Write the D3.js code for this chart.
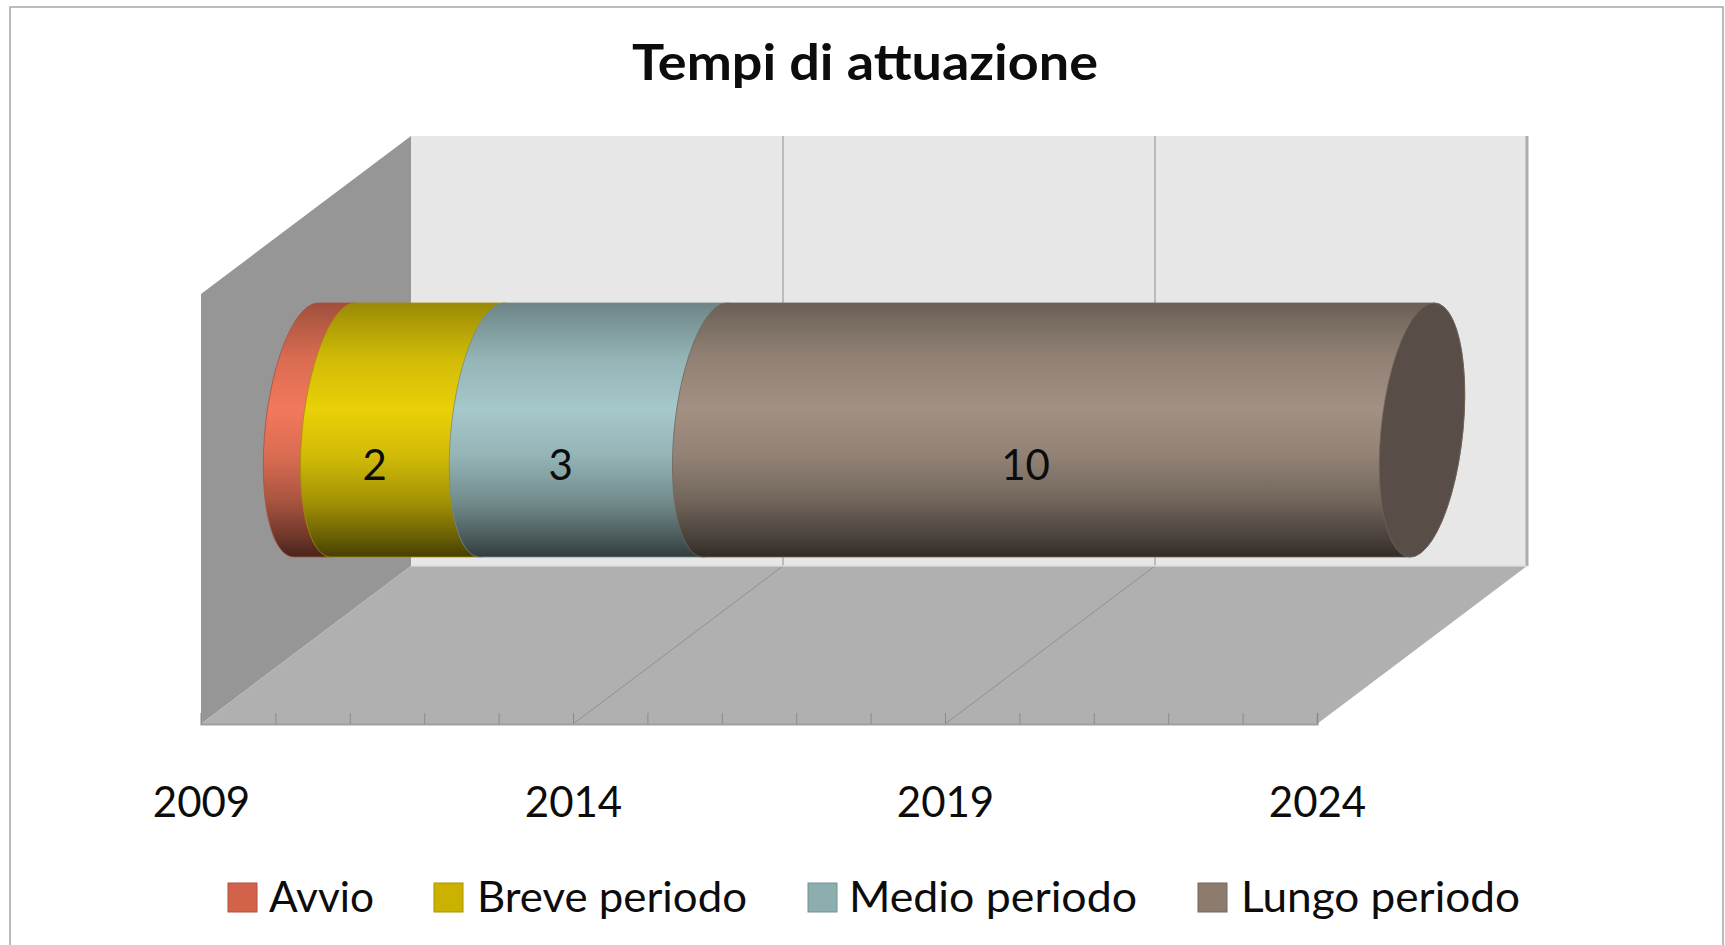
<!DOCTYPE html>
<html>
<head>
<meta charset="utf-8">
<script src="https://cdn.jsdelivr.net/npm/d3@7/dist/d3.min.js"></script>
<style>
html,body{margin:0;padding:0;background:#fff;overflow:hidden}
text{font-family:Lato,"Open Sans",sans-serif;fill:#0c0c0c}
</style>
</head>
<body>
<svg id="chart" width="1725" height="945"></svg>
<script>
const title = "Tempi di attuazione";
const seriesNames = ["Avvio", "Breve periodo", "Medio periodo", "Lungo periodo"];
const seriesValues = [0.5, 2, 3, 9.5];
const seriesColors = ["#d2634a", "#cbb200", "#8caeae", "#8d7b6d"];
const brightColors = ["#f2785b", "#e9d008", "#a5c8ca", "#a29082"];
const startYear = 2009;
const endYear = 2024;
const labelledYears = [2009, 2014, 2019, 2024];
const allYears = d3.range(startYear, endYear + 1);
const hiddenLabels = ["Avvio"];

const svg = d3.select("#chart");
const defs = svg.append("defs");

// layout of the 3D box
const box = {left: 201, right: 1317, front: 724, dx: 210, dy: 158, height: 430};
const x = d3.scaleLinear().domain([startYear, endYear]).range([box.left, box.right]);
const wallBottom = box.front - box.dy, wallTop = wallBottom - box.height;
const barX = v => x(v) + box.dx / 2;
const cyl = {top: 303, bottom: 557, a: 41, skew: 12};
const cy = (cyl.top + cyl.bottom) / 2, cr = (cyl.bottom - cyl.top) / 2;

// frame
svg.append("path").attr("d", "M10,945V7H1723V945").attr("fill", "#fff")
  .attr("stroke", "#a8a8a8").attr("stroke-width", 1.6);

// walls
const poly = pts => d3.line()(pts) + "Z";
svg.append("path").attr("fill", "#e7e7e7")
  .attr("d", poly([[x(startYear)+box.dx, wallTop],[x(endYear)+box.dx, wallTop],[x(endYear)+box.dx, wallBottom],[x(startYear)+box.dx, wallBottom]]));
svg.append("path").attr("fill", "#969696")
  .attr("d", poly([[x(startYear), wallTop+box.dy],[x(startYear)+box.dx, wallTop],[x(startYear)+box.dx, wallBottom],[x(startYear), box.front]]));
svg.append("path").attr("fill", "#b0b0b0")
  .attr("d", poly([[x(startYear)+box.dx, wallBottom],[x(endYear)+box.dx, wallBottom],[x(endYear), box.front],[x(startYear), box.front]]));

// gridlines
const gridYears = labelledYears.slice(1, -1);
svg.append("g").selectAll("path").data(gridYears).join("path")
  .attr("fill", "none").attr("stroke", "#8f8f8f").attr("stroke-width", 1)
  .attr("d", y => d3.line()([[x(y)+box.dx, wallTop],[x(y)+box.dx, wallBottom],[x(y), box.front]]));
svg.append("line").attr("x1", x(endYear)+box.dx).attr("x2", x(endYear)+box.dx)
  .attr("y1", wallTop).attr("y2", wallBottom).attr("stroke", "#adadad").attr("stroke-width", 3);
svg.append("line").attr("x1", x(startYear)+box.dx).attr("x2", x(endYear)+box.dx)
  .attr("y1", wallBottom).attr("y2", wallBottom).attr("stroke", "#d8d8d8").attr("stroke-width", 1.5);

// axis
const axis = d3.axisBottom(x).tickValues(allYears).tickSize(-11).tickPadding(63)
  .tickFormat(y => labelledYears.includes(y) ? String(y) : "");
const gAxis = svg.append("g").attr("transform", `translate(0,${box.front})`).call(axis);
gAxis.select(".domain").attr("stroke", "#a0a0a0").attr("stroke-width", 2.2);
gAxis.selectAll(".tick line").attr("stroke", "#8a8a8a").attr("stroke-width", 1);
gAxis.selectAll(".tick text").attr("font-size", 42).attr("font-family", null).attr("fill", "#0c0c0c");
gAxis.attr("font-family", null);

// stacked cylinders
const stops = [[0,0.66],[0.07,0.74],[0.22,0.90],[0.42,1],[0.60,0.90],[0.78,0.70],[0.92,0.46],[1,0.30]];
const ellipse = (cx, t) => [cx + cyl.a * Math.cos(t) - cyl.skew * Math.sin(t), cy + cr * Math.sin(t)];
const arc = (cx, t0, t1) => d3.range(0, 49).map(i => ellipse(cx, t0 + (t1 - t0) * i / 48));
let acc = startYear;
const segments = seriesValues.map((v, i) => {
  const s = {i, name: seriesNames[i], value: v, start: acc, end: acc + v};
  acc += v; return s;
});
segments.forEach(s => {
  const g = defs.append("linearGradient").attr("id", "grad" + s.i)
    .attr("gradientUnits", "userSpaceOnUse").attr("x1", 0).attr("x2", 0).attr("y1", cyl.top).attr("y2", cyl.bottom);
  stops.forEach(([o, f]) => {
    const c = d3.rgb(brightColors[s.i]);
    g.append("stop").attr("offset", o).attr("stop-color", d3.rgb(c.r * f, c.g * f, c.b * f).formatHex());
  });
});
const gBars = svg.append("g");
gBars.selectAll("path").data(segments).join("path")
  .attr("fill", s => `url(#grad${s.i})`)
  .attr("stroke", s => d3.rgb(seriesColors[s.i]).darker(0.6)).attr("stroke-width", 0.8)
  .attr("d", s => {
    const left = arc(barX(s.start), -Math.PI / 2, -3 * Math.PI / 2);   // top → left → bottom
    const right = arc(barX(s.end), Math.PI / 2, -Math.PI / 2);         // bottom → right → top
    return d3.line()(left.concat(right)) + "Z";
  });

// end cap
const last = segments[segments.length - 1];
svg.append("path").attr("fill", "#594e47").attr("stroke", "#6f645c").attr("stroke-width", 0.8)
  .attr("d", d3.line()(arc(barX(last.end), 0, 2 * Math.PI)) + "Z");

// data labels
svg.append("g").selectAll("text").data(segments.filter(s => !hiddenLabels.includes(s.name))).join("text")
  .attr("x", s => barX((s.start + s.end) / 2) - 43).attr("y", 480)
  .attr("text-anchor", "middle").attr("font-size", 42)
  .text(s => s.value.toFixed(0));

// title
svg.append("text").attr("x", 865).attr("y", 80).attr("text-anchor", "middle")
  .attr("font-size", 50).attr("font-weight", 700)
  .attr("textLength", 466).attr("lengthAdjust", "spacingAndGlyphs").text(title);

// legend
const legendSwatchX = [228, 434, 808, 1198];
const legendTextX = [269, 477, 849, 1241];
const legendTextW = [105, 270, 288, 279];
const gLegend = svg.append("g");
seriesNames.forEach((n, i) => {
  gLegend.append("rect").attr("x", legendSwatchX[i]).attr("y", 883).attr("width", 29).attr("height", 29)
    .attr("fill", seriesColors[i]).attr("stroke", d3.rgb(seriesColors[i]).darker(0.5)).attr("stroke-width", 1);
  gLegend.append("text").attr("x", legendTextX[i]).attr("y", 912).attr("font-size", 42)
    .attr("textLength", legendTextW[i]).attr("lengthAdjust", "spacingAndGlyphs").text(n);
});
</script>
</body>
</html>
